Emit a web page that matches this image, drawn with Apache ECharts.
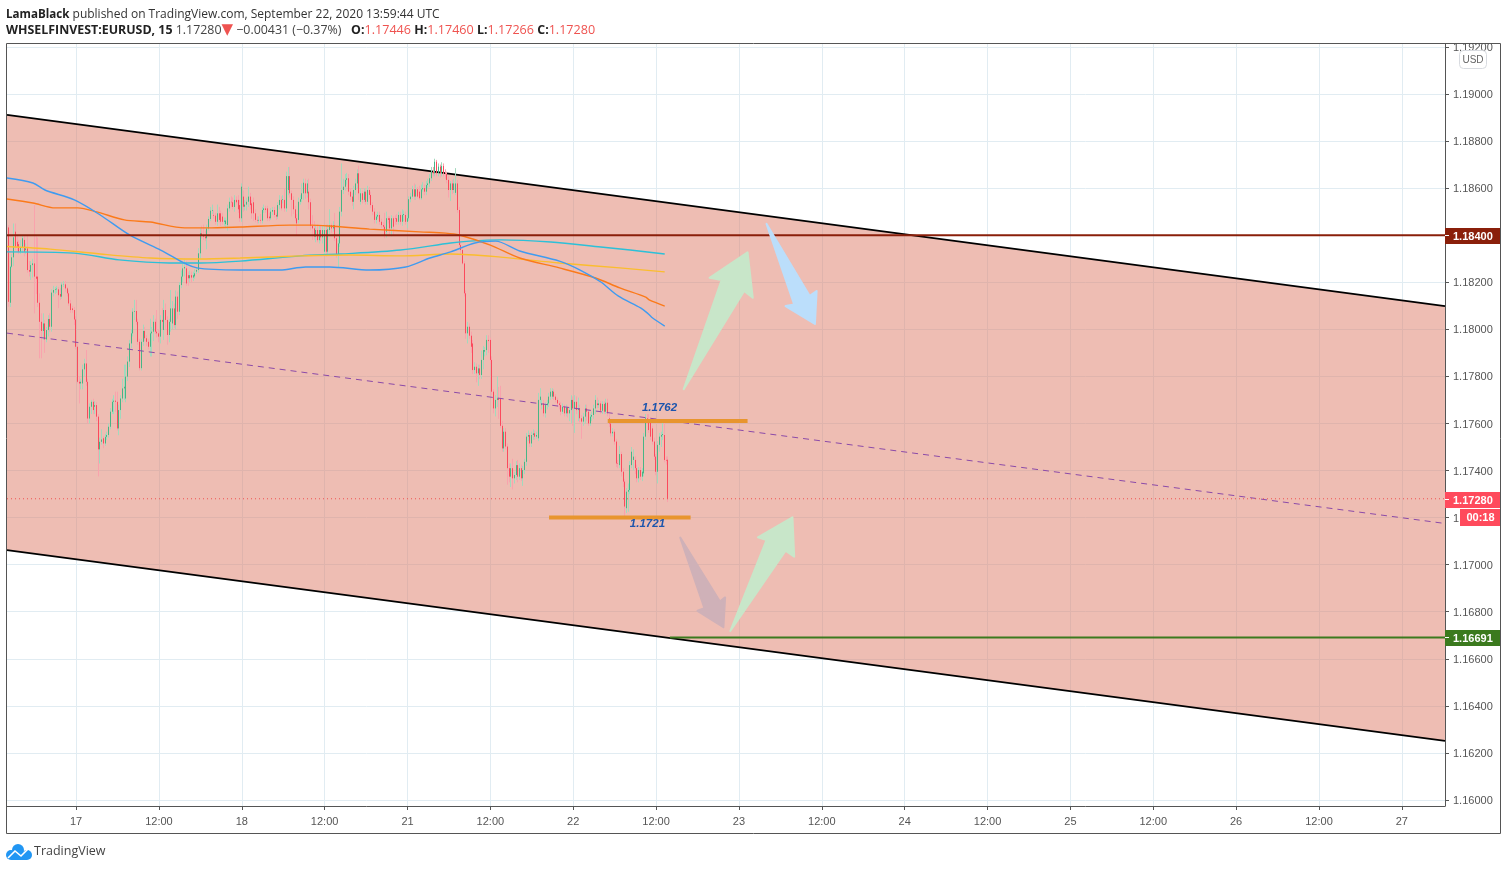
<!DOCTYPE html>
<html><head><meta charset="utf-8"><style>html,body{margin:0;padding:0;background:#fff}#c{width:1507px;height:870px}</style>
<script src="https://cdn.jsdelivr.net/npm/echarts@6/dist/echarts.min.js"></script></head><body><div id="c"></div><script>
const opens=[1.18443,1.18433,1.18113,1.18266,1.18306,1.18415,1.18372,1.18362,1.18330,1.18348,
1.18380,1.18337,1.18344,1.18252,1.18245,1.18273,1.18280,1.18224,1.18224,1.18113,
1.18032,1.17993,1.18025,1.17957,1.17997,1.18044,1.18011,1.18156,1.18167,1.18170,
1.18170,1.18150,1.18139,1.18190,1.18191,1.18174,1.18153,1.18110,1.18089,1.18082,
1.18042,1.17926,1.17777,1.17770,1.17770,1.17830,1.17855,1.17777,1.17621,1.17671,
1.17692,1.17671,1.17678,1.17629,1.17490,1.17522,1.17537,1.17515,1.17543,1.17551,
1.17586,1.17650,1.17692,1.17697,1.17692,1.17579,1.17657,1.17706,1.17749,1.17706,
1.17799,1.17863,1.17940,1.17983,1.18075,1.18078,1.18032,1.17947,1.17835,1.17947,
1.17993,1.17962,1.17947,1.17926,1.17983,1.17990,1.18032,1.17990,1.17983,1.17969,
1.18040,1.17997,1.18082,1.18040,1.17976,1.18032,1.18025,1.18089,1.18018,1.18139,
1.18075,1.18188,1.18224,1.18259,1.18259,1.18230,1.18217,1.18230,1.18220,1.18225,
1.18245,1.18252,1.18323,1.18408,1.18397,1.18394,1.18387,1.18429,1.18469,1.18504,
1.18486,1.18483,1.18457,1.18493,1.18493,1.18479,1.18457,1.18447,1.18443,1.18514,
1.18542,1.18540,1.18520,1.18550,1.18550,
1.18528,1.18472,1.18564,1.18521,1.18530,1.18542,1.18564,1.18535,1.18540,1.18493,
1.18465,1.18462,1.18465,1.18462,1.18507,1.18514,1.18514,1.18479,1.18472,1.18500,
1.18507,1.18486,1.18479,1.18528,1.18550,1.18550,1.18550,1.18514,1.18592,1.18651,
1.18578,1.18550,1.18510,1.18472,1.18465,1.18542,1.18553,1.18578,1.18620,1.18578,
1.18585,1.18540,1.18439,1.18429,1.18394,1.18422,1.18379,1.18422,1.18391,1.18330,
1.18422,1.18330,1.18422,1.18443,1.18429,1.18443,1.18387,1.18316,1.18365,1.18500,
1.18592,1.18606,1.18635,1.18642,1.18585,1.18564,1.18542,1.18592,1.18620,1.18663,
1.18542,1.18578,1.18550,1.18585,1.18542,1.18592,1.18571,1.18528,1.18500,1.18465,
1.18479,1.18486,1.18457,1.18443,1.18436,1.18415,1.18472,1.18472,1.18429,1.18472,
1.18472,1.18472,1.18457,1.18486,1.18457,1.18486,1.18486,1.18457,1.18472,1.18553,
1.18564,1.18595,1.18564,1.18595,1.18585,1.18557,1.18595,1.18600,1.18585,1.18613,
1.18620,1.18642,1.18670,1.18663,1.18712,1.18663,1.18691,1.18663,1.18694,1.18663,
1.18660,1.18635,1.18592,1.18620,1.18592,1.18580,1.18620,1.18507,1.18358,1.18337,
1.18280,1.18153,1.17983,1.18011,1.17973,1.17940,1.17827,1.17841,1.17813,1.17834,
1.17806,1.17870,1.17905,1.17912,1.17955,1.17955,1.17870,1.17735,1.17664,1.17700,
1.17707,1.17707,1.17590,1.17494,1.17565,1.17502,1.17410,1.17374,1.17410,1.17367,
1.17381,1.17423,1.17374,1.17410,1.17367,1.17402,1.17437,1.17544,1.17551,1.17515,
1.17551,1.17558,1.17544,1.17537,1.17700,1.17678,1.17685,1.17643,1.17678,1.17685,
1.17714,1.17714,1.17735,1.17714,1.17700,1.17685,1.17678,1.17650,1.17671,1.17643,
1.17668,1.17643,1.17657,1.17700,1.17664,1.17692,1.17657,1.17664,1.17622,1.17608,
1.17629,1.17664,1.17650,1.17600,1.17629,1.17636,1.17664,1.17685,1.17678,1.17685,
1.17654,1.17683,1.17650,1.17688,1.17622,1.17600,1.17558,1.17565,1.17523,1.17430,
1.17423,1.17470,1.17395,1.17353,1.17240,1.17310,1.17317,1.17423,1.17445,1.17445,
1.17410,1.17367,1.17402,1.17374,1.17388,1.17544,1.17622,1.17615,1.17608,1.17579,
1.17523,1.17459,1.17395,1.17509,1.17544,1.17551,1.17551,1.17445,1.17446];
const closes=[1.18433,1.18117,1.18266,1.18306,1.18391,1.18351,1.18351,1.18330,1.18348,1.18387,
1.18330,1.18344,1.18252,1.18245,1.18273,1.18280,1.18224,1.18215,1.18113,1.18032,
1.17993,1.18025,1.17957,1.17997,1.18044,1.18011,1.18156,1.18167,1.18170,1.18173,
1.18145,1.18139,1.18190,1.18191,1.18174,1.18153,1.18110,1.18082,1.18082,1.18042,
1.17926,1.17777,1.17770,1.17777,1.17830,1.17855,1.17777,1.17621,1.17671,1.17692,
1.17657,1.17678,1.17629,1.17490,1.17522,1.17532,1.17515,1.17543,1.17551,1.17586,
1.17650,1.17692,1.17697,1.17692,1.17579,1.17657,1.17706,1.17749,1.17756,1.17799,
1.17863,1.17940,1.17983,1.18075,1.18078,1.18032,1.17947,1.17835,1.17947,1.17993,
1.17962,1.17947,1.17926,1.17983,1.17990,1.18032,1.17990,1.17983,1.17969,1.18040,
1.18032,1.18082,1.18040,1.17976,1.18032,1.18089,1.18089,1.18018,1.18139,1.18075,
1.18188,1.18224,1.18259,1.18265,1.18195,1.18217,1.18230,1.18220,1.18230,1.18238,
1.18252,1.18323,1.18408,1.18397,1.18394,1.18387,1.18429,1.18469,1.18504,1.18507,
1.18483,1.18457,1.18493,1.18465,1.18457,1.18457,1.18462,1.18462,1.18514,1.18542,
1.18540,1.18520,1.18550,1.18540,1.18510,
1.18472,1.18606,1.18521,1.18530,1.18542,1.18564,1.18528,1.18493,1.18493,1.18465,
1.18462,1.18465,1.18462,1.18507,1.18514,1.18507,1.18472,1.18472,1.18500,1.18507,
1.18486,1.18479,1.18528,1.18550,1.18514,1.18553,1.18514,1.18651,1.18651,1.18578,
1.18550,1.18510,1.18472,1.18450,1.18542,1.18553,1.18578,1.18623,1.18578,1.18620,
1.18540,1.18439,1.18429,1.18394,1.18422,1.18379,1.18422,1.18391,1.18422,1.18422,
1.18330,1.18425,1.18443,1.18429,1.18443,1.18387,1.18316,1.18365,1.18500,1.18592,
1.18606,1.18635,1.18642,1.18585,1.18564,1.18542,1.18592,1.18620,1.18663,1.18578,
1.18578,1.18550,1.18585,1.18542,1.18592,1.18571,1.18528,1.18500,1.18465,1.18479,
1.18486,1.18457,1.18443,1.18436,1.18401,1.18472,1.18465,1.18429,1.18472,1.18436,
1.18470,1.18457,1.18486,1.18457,1.18486,1.18490,1.18457,1.18472,1.18553,1.18564,
1.18595,1.18564,1.18595,1.18564,1.18557,1.18595,1.18600,1.18585,1.18613,1.18620,
1.18642,1.18670,1.18663,1.18712,1.18663,1.18691,1.18663,1.18694,1.18663,1.18660,
1.18635,1.18592,1.18620,1.18592,1.18620,1.18620,1.18507,1.18358,1.18337,1.18280,
1.18153,1.17983,1.18011,1.17973,1.17926,1.17827,1.17841,1.17813,1.17834,1.17806,
1.17870,1.17912,1.17912,1.17955,1.17950,1.17870,1.17735,1.17664,1.17700,1.17707,
1.17700,1.17590,1.17494,1.17565,1.17502,1.17410,1.17374,1.17410,1.17367,1.17381,
1.17423,1.17374,1.17410,1.17367,1.17402,1.17437,1.17544,1.17551,1.17515,1.17551,
1.17558,1.17544,1.17551,1.17700,1.17714,1.17685,1.17643,1.17678,1.17685,1.17714,
1.17735,1.17738,1.17714,1.17700,1.17685,1.17678,1.17650,1.17671,1.17643,1.17668,
1.17643,1.17657,1.17700,1.17664,1.17692,1.17657,1.17664,1.17622,1.17608,1.17629,
1.17664,1.17650,1.17600,1.17629,1.17636,1.17664,1.17700,1.17678,1.17685,1.17654,
1.17683,1.17650,1.17688,1.17643,1.17600,1.17558,1.17565,1.17523,1.17430,1.17428,
1.17470,1.17395,1.17353,1.17247,1.17310,1.17317,1.17423,1.17480,1.17459,1.17410,
1.17367,1.17402,1.17374,1.17395,1.17544,1.17622,1.17618,1.17572,1.17544,1.17523,
1.17459,1.17395,1.17509,1.17544,1.17551,1.17555,1.17445,1.17442,1.17280];
const highs=[1.18500,1.18443,1.18270,1.18320,1.18450,1.18450,1.18400,1.18380,1.18380,1.18400,
1.18395,1.18365,1.18400,1.18290,1.18290,1.18300,1.18528,1.18395,1.18390,1.18153,
1.18068,1.18068,1.18040,1.18010,1.18060,1.18068,1.18170,1.18185,1.18180,1.18185,
1.18180,1.18175,1.18200,1.18205,1.18205,1.18180,1.18165,1.18125,1.18100,1.18095,
1.18055,1.17940,1.17800,1.17790,1.17850,1.17875,1.17912,1.17790,1.17685,1.17700,
1.17705,1.17695,1.17690,1.17640,1.17540,1.17575,1.17545,1.17555,1.17565,1.17600,
1.17665,1.17705,1.17720,1.17735,1.17735,1.17680,1.17720,1.17790,1.17850,1.17850,
1.17885,1.17955,1.18000,1.18090,1.18125,1.18125,1.18045,1.17960,1.17960,1.18020,
1.18010,1.17975,1.17960,1.18045,1.18010,1.18060,1.18045,1.18082,1.18000,1.18060,
1.18090,1.18125,1.18110,1.18055,1.18045,1.18167,1.18120,1.18110,1.18165,1.18160,
1.18200,1.18250,1.18280,1.18295,1.18290,1.18245,1.18250,1.18245,1.18245,1.18255,
1.18265,1.18345,1.18430,1.18440,1.18445,1.18420,1.18445,1.18480,1.18520,1.18530,
1.18505,1.18495,1.18530,1.18520,1.18505,1.18495,1.18475,1.18475,1.18530,1.18560,
1.18565,1.18560,1.18570,1.18565,1.18570,
1.18550,1.18620,1.18590,1.18550,1.18560,1.18606,1.18580,1.18550,1.18560,1.18510,
1.18480,1.18480,1.18490,1.18520,1.18530,1.18525,1.18525,1.18495,1.18515,1.18520,
1.18520,1.18495,1.18540,1.18570,1.18565,1.18570,1.18600,1.18670,1.18690,1.18690,
1.18590,1.18565,1.18525,1.18490,1.18560,1.18570,1.18620,1.18640,1.18640,1.18635,
1.18640,1.18555,1.18485,1.18460,1.18440,1.18445,1.18440,1.18440,1.18440,1.18440,
1.18445,1.18445,1.18510,1.18450,1.18460,1.18495,1.18400,1.18380,1.18520,1.18705,
1.18640,1.18660,1.18665,1.18660,1.18600,1.18580,1.18610,1.18640,1.18680,1.18695,
1.18600,1.18590,1.18600,1.18595,1.18610,1.18605,1.18585,1.18540,1.18515,1.18490,
1.18500,1.18500,1.18470,1.18455,1.18495,1.18500,1.18480,1.18480,1.18485,1.18480,
1.18485,1.18490,1.18500,1.18500,1.18510,1.18505,1.18500,1.18485,1.18565,1.18580,
1.18610,1.18620,1.18615,1.18605,1.18610,1.18615,1.18625,1.18615,1.18630,1.18640,
1.18660,1.18690,1.18690,1.18725,1.18720,1.18705,1.18700,1.18710,1.18705,1.18680,
1.18670,1.18650,1.18630,1.18635,1.18640,1.18685,1.18635,1.18520,1.18370,1.18345,
1.18290,1.18165,1.18032,1.18025,1.17990,1.17955,1.17860,1.17855,1.17850,1.17850,
1.17910,1.17930,1.17925,1.17975,1.17975,1.17965,1.17885,1.17745,1.17720,1.17800,
1.17755,1.17760,1.17610,1.17580,1.17580,1.17515,1.17430,1.17430,1.17450,1.17395,
1.17440,1.17445,1.17430,1.17425,1.17420,1.17450,1.17560,1.17570,1.17560,1.17565,
1.17575,1.17570,1.17565,1.17730,1.17750,1.17700,1.17700,1.17690,1.17700,1.17730,
1.17750,1.17750,1.17745,1.17725,1.17710,1.17695,1.17690,1.17685,1.17680,1.17680,
1.17675,1.17670,1.17720,1.17715,1.17720,1.17715,1.17710,1.17680,1.17635,1.17645,
1.17680,1.17680,1.17660,1.17640,1.17650,1.17680,1.17720,1.17710,1.17700,1.17695,
1.17695,1.17695,1.17705,1.17705,1.17640,1.17610,1.17580,1.17575,1.17535,1.17445,
1.17505,1.17480,1.17410,1.17365,1.17325,1.17345,1.17440,1.17500,1.17490,1.17460,
1.17425,1.17415,1.17415,1.17410,1.17560,1.17640,1.17640,1.17640,1.17625,1.17590,
1.17540,1.17470,1.17525,1.17560,1.17565,1.17610,1.17610,1.17460,1.17460];
const lows=[1.18415,1.18096,1.18095,1.18260,1.18270,1.18337,1.18330,1.18320,1.18320,1.18325,
1.18310,1.18320,1.18240,1.18225,1.18210,1.18220,1.18068,1.18150,1.18095,1.17877,
1.17877,1.17955,1.17900,1.17945,1.17970,1.17990,1.17990,1.18140,1.18150,1.18155,
1.18090,1.18125,1.18130,1.18180,1.18160,1.18140,1.18100,1.18070,1.18070,1.18018,
1.17915,1.17770,1.17685,1.17745,1.17745,1.17800,1.17760,1.17600,1.17600,1.17640,
1.17640,1.17640,1.17610,1.17375,1.17430,1.17510,1.17495,1.17505,1.17530,1.17540,
1.17575,1.17640,1.17640,1.17650,1.17570,1.17550,1.17620,1.17690,1.17700,1.17690,
1.17780,1.17840,1.17920,1.17970,1.18040,1.18020,1.17935,1.17825,1.17825,1.17930,
1.17950,1.17930,1.17915,1.17885,1.17885,1.17950,1.17980,1.17965,1.17945,1.17940,
1.18000,1.17955,1.18000,1.17935,1.17945,1.17990,1.18000,1.18005,1.18000,1.18045,
1.18060,1.18175,1.18200,1.18225,1.18185,1.18185,1.18200,1.18200,1.18205,1.18215,
1.18235,1.18240,1.18300,1.18385,1.18380,1.18375,1.18340,1.18420,1.18460,1.18490,
1.18470,1.18445,1.18440,1.18455,1.18440,1.18445,1.18440,1.18430,1.18420,1.18500,
1.18520,1.18510,1.18500,1.18530,1.18495,
1.18457,1.18457,1.18500,1.18505,1.18505,1.18520,1.18510,1.18470,1.18460,1.18455,
1.18450,1.18450,1.18450,1.18450,1.18495,1.18495,1.18460,1.18460,1.18465,1.18485,
1.18475,1.18465,1.18470,1.18510,1.18505,1.18535,1.18500,1.18500,1.18570,1.18560,
1.18480,1.18490,1.18460,1.18400,1.18450,1.18530,1.18540,1.18550,1.18555,1.18560,
1.18510,1.18420,1.18380,1.18380,1.18370,1.18370,1.18365,1.18375,1.18365,1.18320,
1.18310,1.18315,1.18400,1.18410,1.18415,1.18375,1.18305,1.18265,1.18350,1.18480,
1.18575,1.18590,1.18615,1.18570,1.18550,1.18525,1.18510,1.18570,1.18600,1.18550,
1.18530,1.18535,1.18540,1.18530,1.18530,1.18555,1.18515,1.18485,1.18450,1.18450,
1.18470,1.18445,1.18430,1.18425,1.18387,1.18390,1.18450,1.18400,1.18395,1.18400,
1.18445,1.18445,1.18445,1.18445,1.18440,1.18460,1.18445,1.18430,1.18460,1.18540,
1.18555,1.18550,1.18550,1.18555,1.18550,1.18550,1.18585,1.18570,1.18570,1.18600,
1.18605,1.18630,1.18650,1.18650,1.18650,1.18650,1.18645,1.18650,1.18650,1.18640,
1.18620,1.18560,1.18545,1.18575,1.18580,1.18570,1.18495,1.18350,1.18320,1.18275,
1.18140,1.17960,1.17940,1.17960,1.17900,1.17810,1.17810,1.17775,1.17760,1.17790,
1.17790,1.17830,1.17885,1.17890,1.17900,1.17855,1.17720,1.17643,1.17630,1.17670,
1.17620,1.17580,1.17480,1.17480,1.17490,1.17340,1.17350,1.17330,1.17320,1.17345,
1.17360,1.17350,1.17360,1.17355,1.17335,1.17385,1.17420,1.17525,1.17500,1.17500,
1.17530,1.17530,1.17535,1.17525,1.17685,1.17660,1.17630,1.17625,1.17660,1.17670,
1.17700,1.17705,1.17700,1.17690,1.17670,1.17660,1.17635,1.17640,1.17630,1.17630,
1.17625,1.17610,1.17600,1.17590,1.17560,1.17640,1.17610,1.17605,1.17535,1.17590,
1.17600,1.17610,1.17590,1.17590,1.17610,1.17620,1.17640,1.17665,1.17665,1.17640,
1.17640,1.17640,1.17640,1.17630,1.17585,1.17545,1.17545,1.17510,1.17415,1.17410,
1.17410,1.17375,1.17330,1.17205,1.17220,1.17225,1.17300,1.17410,1.17400,1.17385,
1.17350,1.17350,1.17360,1.17355,1.17375,1.17530,1.17600,1.17560,1.17530,1.17510,
1.17445,1.17380,1.17345,1.17480,1.17500,1.17530,1.17435,1.17425,1.17266];

const maBlue=[[0,1.18643],[15,1.18622],[22,1.18592],[39,1.18550],[54,1.18486],[71,1.18401],[89,1.18337],[110,1.18261],[135,1.18252],[158,1.18252],[173,1.18265],[187,1.18265],[210,1.18252],[231,1.18265],[245,1.18303],[257,1.18329],[271,1.18367],[283,1.18375],[297,1.18333],[320,1.18290],[332,1.18252],[344,1.18201],[354,1.18142],[367,1.18091],[371,1.18069],[374,1.18048],[381,1.18014]];
const maOrange=[[0,1.18554],[15,1.18537],[28,1.18516],[41,1.18516],[52,1.18499],[68,1.18465],[83,1.18456],[103,1.18431],[116,1.18431],[135,1.18435],[164,1.18443],[176,1.18443],[187,1.18439],[210,1.18426],[239,1.18414],[254,1.18409],[262,1.18401],[280,1.18358],[297,1.18303],[320,1.18261],[341,1.18218],[355,1.18176],[370,1.18137],[372,1.18125],[381,1.18099]];
const maYellow=[[0,1.18352],[25,1.18341],[54,1.18320],[83,1.18303],[112,1.18299],[135,1.18303],[170,1.18312],[199,1.18316],[228,1.18312],[257,1.18320],[286,1.18307],[320,1.18282],[355,1.18261],[381,1.18244]];
const maCyan=[[0,1.18329],[39,1.18324],[65,1.18295],[94,1.18282],[112,1.18282],[135,1.18290],[170,1.18312],[193,1.18320],[228,1.18337],[257,1.18367],[268,1.18375],[286,1.18380],[315,1.18371],[344,1.18350],[361,1.18337],[381,1.18320]];

const yTicks=[1.16,1.162,1.164,1.166,1.168,1.17,1.172,1.174,1.176,1.178,1.18,1.182,1.184,1.186,1.188,1.19,1.192];
const xTickLabels=['17','12:00','18','12:00','21','12:00','22','12:00','23','12:00','24','12:00','25','12:00','26','12:00','27'];
const channelTop=[[0,1.18911],[833,1.18099]];
const channelBottom=[[0,1.17062],[833,1.16251]];
const channelMid=[[0,1.17984],[831,1.17177]];
const levelRed=[[0,1.184],[833,1.184]];
const levelGreen=[[384,1.16691],[833,1.16691]];
const levelLast=[[0,1.1728],[833,1.1728]];
const levelUpper=[[348,1.1761],[429,1.1761]];
const levelLower=[[314,1.172],[396,1.172]];
const arrowGreenUp=[[391.8,1.17746],[413.6,1.18210],[407.2,1.18219],[429.4,1.18327],[432.3,1.18134],[426.5,1.18163]];
const arrowBlue=[[440.1,1.18448],[455.5,1.18106],[451.2,1.18099],[467.5,1.18023],[469.4,1.18163],[465.2,1.18142]];
const arrowGrey=[[389.9,1.17115],[403.9,1.16815],[399.9,1.16804],[414.6,1.16734],[416.3,1.16861],[412.6,1.16843]];
const arrowGreenLow=[[418.8,1.16718],[440.1,1.17105],[434.6,1.17116],[454.5,1.17201],[455.9,1.17034],[451.2,1.17059]];
const notes=[[378,1.17667,'1.1762'],[371,1.17172,'1.1721']];
const priceTags=[[1.184,'1.18400','#8a1f0a'],[1.1728,'1.17280','#ff4a5c'],[1.172,'00:18','#ff4a5c'],[1.16691,'1.16691','#3b7a1e']];

const SLOTS=834, FIRST_TICK=40, TICK_STEP=48;
const categories=Array.from({length:SLOTS},(_,i)=>{
  const k=(i-FIRST_TICK)/TICK_STEP;
  return (i>=FIRST_TICK&&Number.isInteger(k)&&xTickLabels[k])?xTickLabels[k]:'';
});
const isTick=(i)=>categories[i]!=='';
const wickData=opens.map((o,i)=>[o,closes[i],lows[i],highs[i]]);
const bodyData=opens.map((o,i)=>[o,closes[i],Math.min(o,closes[i]),Math.max(o,closes[i])]);
const lineS=(data,color,width,type,z,smooth)=>({type:'line',data,showSymbol:false,symbol:'none',silent:true,z,smooth:smooth||false,
  lineStyle:{color,width,type:type||'solid'},animation:false});
const polys=[
 {pts:[channelTop[0],channelTop[1],channelBottom[1],channelBottom[0]],fill:'rgba(221,123,103,0.5)',z:1},
];
const arrows=[
 {pts:arrowGreenUp,fill:'#c8e6c9'},{pts:arrowBlue,fill:'#bbdefb'},
 {pts:arrowGrey,fill:'#cfb1b8'},{pts:arrowGreenLow,fill:'#c8e6c9'}];
const polyRender=(list,stroke)=>(params,api)=>{
  const a=list[params.dataIndex];
  return {type:'polygon',shape:{points:a.pts.map(p=>api.coord(p))},
    style:{fill:a.fill,stroke:stroke?a.fill:null,lineWidth:stroke?2:0,lineJoin:'round'}};
};
const font='"Liberation Sans",Arial,sans-serif';
const chart=echarts.init(document.getElementById('c'),null,{renderer:'canvas'});
chart.setOption({
 animation:false,backgroundColor:'#fff',
 grid:{left:7,right:62,top:44,bottom:64,containLabel:false},
 xAxis:{type:'category',data:categories,boundaryGap:false,
  axisLine:{show:true,lineStyle:{color:'#555',width:1}},
  axisTick:{show:true,length:4,interval:(i)=>isTick(i),lineStyle:{color:'#555'}},
  axisLabel:{interval:(i)=>isTick(i),color:'#555',fontSize:11,fontFamily:font,margin:10,hideOverlap:false},
  splitLine:{show:true,interval:(i)=>isTick(i),lineStyle:{color:'#e1ecf2',width:1}}},
 yAxis:{type:'value',position:'right',min:1.159745,max:1.192125,scale:true,
  axisLine:{show:true,lineStyle:{color:'#555',width:1}},
  axisTick:{show:true,length:4,customValues:yTicks,lineStyle:{color:'#555'}},
  axisLabel:{customValues:yTicks,color:'#555',fontSize:11,fontFamily:font,margin:8,formatter:v=>'{v|'+v.toFixed(5)+'}',
    rich:{v:{color:'#555',fontSize:11,fontFamily:font,padding:[2,0,0,0]}}},
  splitLine:{show:true,lineStyle:{color:'#e1ecf2',width:1}}},
 graphic:[
  {type:'rect',z:90,silent:true,shape:{x:1446,y:0,width:61,height:43},style:{fill:'#fff'}},
  {type:'rect',z:100,silent:true,shape:{x:6.5,y:43.5,width:1494,height:790},style:{fill:'none',stroke:'#555',lineWidth:1}},
  {type:'rect',z:100,silent:true,shape:{x:1459.5,y:50.5,width:27,height:18,r:4},style:{fill:'#fff',stroke:'#d8dbe0',lineWidth:1}},
  {type:'text',z:101,silent:true,x:1473,y:60,style:{text:'USD',fill:'#666',font:'10px '+font,textAlign:'center',textVerticalAlign:'middle'}},
  {type:'text',z:101,silent:true,x:6,y:9,style:{font:'12px "Open Sans"',fill:'#333',
    text:'{b|LamaBlack} published on TradingView.com, September 22, 2020 13:59:44 UTC',
    rich:{b:{font:'bold 11.6px "Open Sans"',fill:'#222'}}}},
  {type:'text',z:101,silent:true,x:6,y:23,style:{font:'12.4px "Open Sans"',fill:'#444',
    text:'{b|WHSELFINVEST:EURUSD, 15} 1.17280{t|▼} −0.00431 (−0.37%)   {b|O:}{r|1.17446} {b|H:}{r|1.17460} {b|L:}{r|1.17266} {b|C:}{r|1.17280}',
    rich:{b:{font:'bold 12.4px "Open Sans"',fill:'#222'},r:{font:'12.6px "Open Sans"',fill:'#ef5350'},t:{font:'15px "DejaVu Sans"',fill:'#ef5350'}}}},
  {type:'circle',z:101,silent:true,shape:{cx:11,cy:855,r:5},style:{fill:'#2196f3'}},
  {type:'circle',z:101,silent:true,shape:{cx:18,cy:850,r:6},style:{fill:'#2196f3'}},
  {type:'circle',z:101,silent:true,shape:{cx:27,cy:855,r:5},style:{fill:'#2196f3'}},
  {type:'rect',z:101,silent:true,shape:{x:11,y:852,width:16,height:8},style:{fill:'#2196f3'}},
  {type:'polyline',z:102,silent:true,shape:{points:[[8,858],[15,851],[21,856],[28,849]]},style:{fill:'none',stroke:'#fff',lineWidth:1.6}},
  {type:'text',z:101,silent:true,x:34,y:845,style:{text:'TradingView',fill:'#444',font:'12.5px "Open Sans"'}}
 ],
 series:[
  {type:'custom',data:polys.map((_,i)=>i),z:1,silent:true,renderItem:polyRender(polys,false),clip:true},
  lineS(channelTop,'#000',1.8,null,2),lineS(channelBottom,'#000',1.8,null,2),
  {type:'candlestick',data:wickData,barWidth:1,z:3,silent:true,
   itemStyle:{color:'#a3d9bd',color0:'#f9a3ad',borderColor:'#a3d9bd',borderColor0:'#f9a3ad',borderWidth:1}},
  {type:'candlestick',data:bodyData,barWidth:1,z:4,silent:true,
   itemStyle:{color:'#47b585',color0:'#fb4a5c',borderColor:'#47b585',borderColor0:'#fb4a5c',borderWidth:1}},
  lineS(channelMid,'#8b4aa8',1,[6,5],5),
  lineS(maCyan,'#2cc0d8',1.4,null,5,0.3),lineS(maYellow,'#fbbd2e',1.4,null,5,0.3),
  lineS(maOrange,'#fb7a1a',1.4,null,5,0.3),lineS(maBlue,'#3f9bf0',1.4,null,5,0.3),
  lineS(levelLast,'#ef5350',1,[1,3],5),
  lineS(levelRed,'#8a1f0a',2,null,6),lineS(levelGreen,'#3b7a1e',2,null,6),
  lineS(levelUpper,'#e8952e',4,null,6),lineS(levelLower,'#e8952e',4,null,6),
  {type:'custom',data:arrows.map((_,i)=>i),z:7,silent:true,renderItem:polyRender(arrows,true),clip:true},
  {type:'custom',data:notes.map((_,i)=>i),z:8,silent:true,clip:false,renderItem:(p,api)=>{
    const n=notes[p.dataIndex],c=api.coord([n[0],n[1]]);
    return {type:'text',x:c[0],y:c[1],style:{text:n[2],fill:'#1c55ad',font:'italic bold 11.5px '+font,textAlign:'center',textVerticalAlign:'middle'}};
  }},
  {type:'custom',data:priceTags.map((_,i)=>i),z:20,silent:true,clip:false,renderItem:(p,api)=>{
    const t=priceTags[p.dataIndex],c=api.coord([833,t[0]]);
    const cd=t[1].indexOf(':')>=0;
    const x0=cd?c[0]+15:c[0], w=cd?41:55, h=cd?17:16, y0=Math.round(c[1]-h/2)+(cd?0:1);
    return {type:'group',children:[
      {type:'rect',shape:{x:x0,y:y0,width:w,height:h},style:{fill:t[2]}},
      cd?{type:'rect',shape:{x:0,y:0,width:0,height:0},style:{fill:'none'}}:
        {type:'rect',shape:{x:c[0],y:y0+7,width:4,height:1},style:{fill:'#fff'}},
      {type:'text',x:x0+(cd?w/2:8),y:y0+h/2+0.5,style:{text:t[1],fill:'#fff',font:'bold 11px '+font,textAlign:cd?'center':'left',textVerticalAlign:'middle'}}
    ]};
  }}
 ]
});
</script></body></html>
